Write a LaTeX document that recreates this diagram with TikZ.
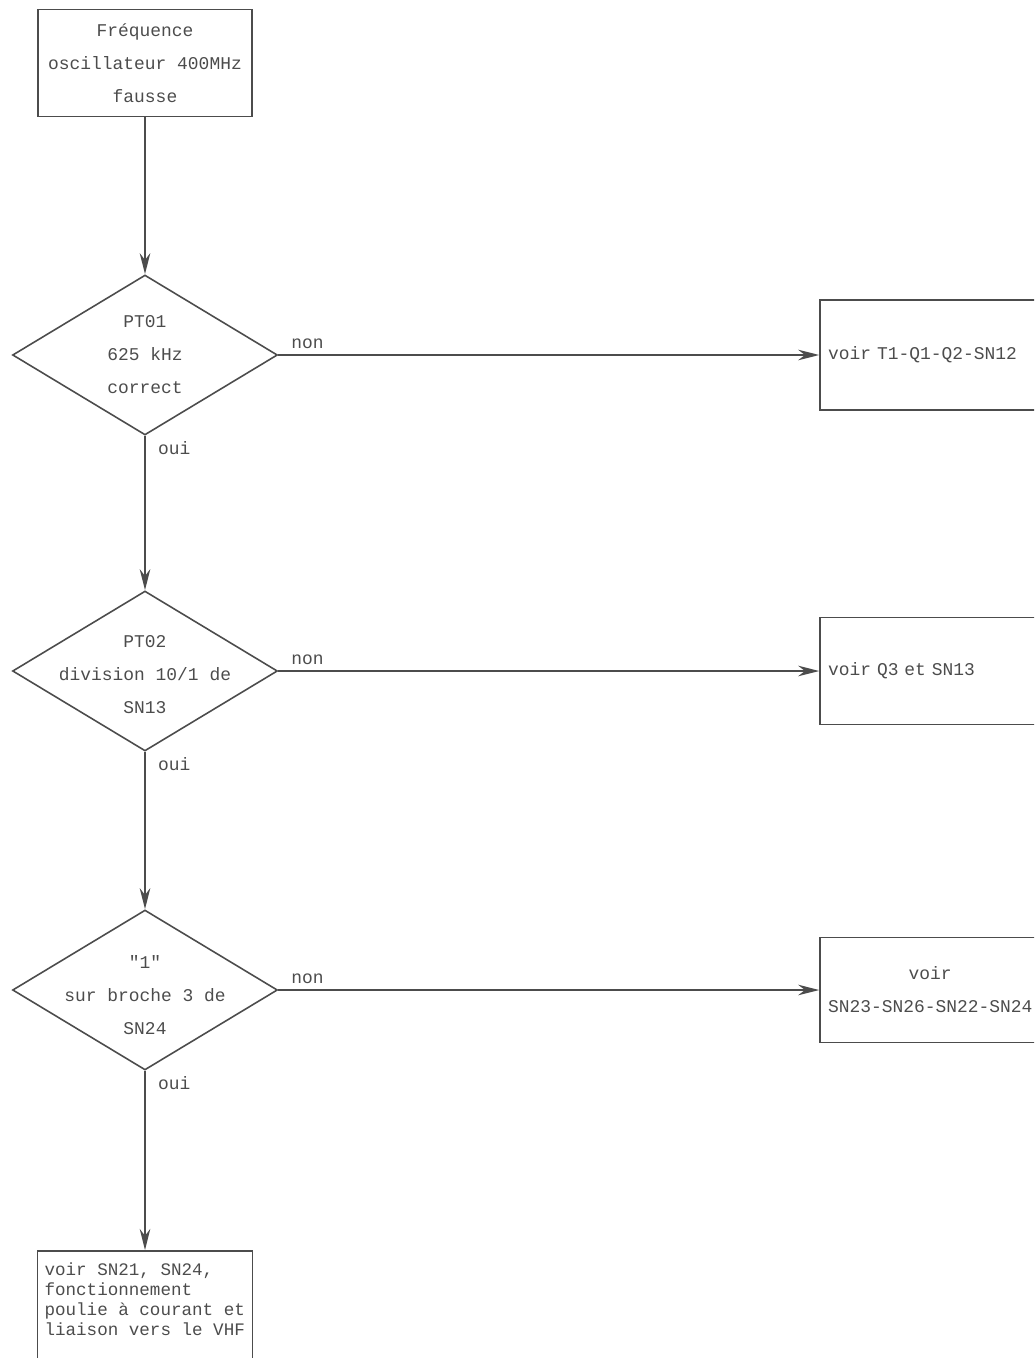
\documentclass[tikz,border=0pt]{standalone}
\usepackage{fontspec}
\setmonofont{Liberation Mono}
\usetikzlibrary{arrows.meta,shapes.geometric}
\definecolor{ink}{HTML}{4C4C4C}

\begin{document}
\begin{tikzpicture}
    %[->,>=stealth,every node/.style={draw}]
    [x=0.02cm,y=-0.02cm,ink,line width=0.9pt,
     every node/.style={font=\ttfamily\fontsize{10.2}{18.8}\selectfont,text=ink},
     box/.style={draw,rectangle,minimum width=4.28cm,minimum height=2.14cm,align=center,inner sep=0pt},
     decision/.style={draw,diamond,minimum width=5.3cm,minimum height=3.2cm,inner sep=0pt},
     dtext/.style={align=center,inner sep=0pt},
     res/.style={draw,rectangle,minimum width=4.4cm,text width=4.08cm,inner xsep=4.5pt,align=left},
     lbl/.style={inner sep=3pt},
     arr/.style={-{Stealth[length=12pt,width=6pt]}}]
    \useasboundingbox (0,0) rectangle (1034,1358);
    \clip (0,0) rectangle (1034,1358);

    \node[box] (nstart) at (145,63) {Fréquence\\oscillateur 400MHz\\fausse};

    \node[decision] (nd1) at (145,355) {};
    \node[dtext] (nt1) at (nd1) {PT01\\625 kHz\\correct};
    \node[decision] (nd2) at (145,671) {};
    \node[dtext] (nt2) at ([yshift=-2pt]nd2) {PT02\\division 10/1 de\\SN13};
    \node[decision] (nd3) at (145,990) {};
    \node[dtext] (nt3) at ([yshift=-3pt]nd3) {"1"\\sur broche 3 de\\SN24};

    \node[res,minimum height=2.2cm] (nr1) at (930,355) {voir T1-Q1-Q2-SN12};
    \node[res,minimum height=2.14cm] (nr2) at (930,671) {voir Q3 et SN13};
    \node[res,minimum height=2.1cm,align=center] (nr3) at (930,990) {voir\\SN23-SN26-SN22-SN24};

    \node[draw,rectangle,anchor=north,minimum width=4.3cm,minimum height=3cm] (nfin) at (145,1250) {};
    \node[anchor=north west,align=left,inner xsep=4pt,inner ysep=7pt,
          font=\ttfamily\fontsize{10}{11.4}\selectfont] (nft) at (nfin.north west)
        {voir SN21, SN24,\\fonctionnement\\poulie à courant et\\liaison vers le VHF};

    \draw[arr] (nstart) -- (nd1);
    \draw[arr] (nd1) -- node[lbl,pos=0,anchor=south west,xshift=4pt] {non} (nr1);
    \draw[arr] (nd1) -- node[lbl,pos=0,anchor=north west,xshift=4pt] {oui} (nd2);
    \draw[arr] (nd2) -- node[lbl,pos=0,anchor=south west,xshift=4pt] {non} (nr2);
    \draw[arr] (nd2) -- node[lbl,pos=0,anchor=north west,xshift=4pt] {oui} (nd3);
    \draw[arr] (nd3) -- node[lbl,pos=0,anchor=south west,xshift=4pt] {non} (nr3);
    \draw[arr] (nd3) -- node[lbl,pos=0,anchor=north west,xshift=4pt] {oui} (nfin);

  \end{tikzpicture}
\end{document}
